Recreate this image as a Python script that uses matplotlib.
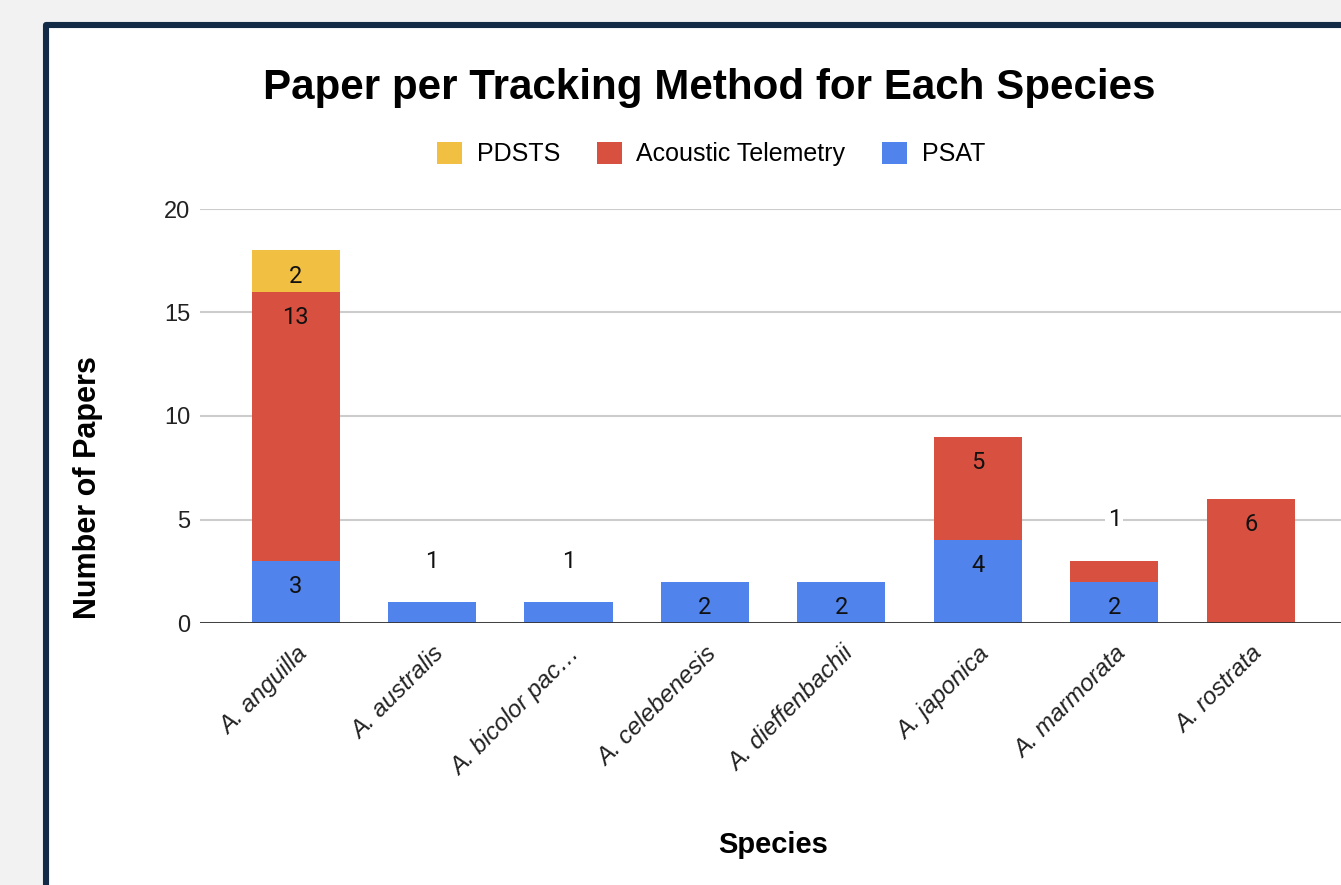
import numpy as np
import matplotlib.pyplot as plt
from matplotlib.patches import Rectangle

species = ["A. anguilla", "A. australis", "A. bicolor pac…", "A. celebenesis",
           "A. dieffenbachii", "A. japonica", "A. marmorata", "A. rostrata"]
psat = [3, 1, 1, 2, 2, 4, 2, 0]
acoustic = [13, 0, 0, 0, 0, 5, 1, 6]
pdsts = [2, 0, 0, 0, 0, 0, 0, 0]

series = [("PSAT", psat, "#5083ec"),
          ("Acoustic Telemetry", acoustic, "#d85140"),
          ("PDSTS", pdsts, "#f1bf42")]

W, H = 1341, 885
fig = plt.figure(figsize=(W / 100, H / 100), dpi=100, facecolor="#f2f2f2")

# white card with navy frame
card_top = 1 - 25 / H
card = Rectangle((46 / W, -0.2), 1.2, card_top + 0.2, transform=fig.transFigure,
                 facecolor="white", edgecolor="#142b47", linewidth=4.4,
                 joinstyle="round", zorder=-5)
fig.patches.append(card)

ax = fig.add_axes([200 / W, 1 - 623 / H, 1 - 200 / W, (623 - 209) / H])
ax.set_facecolor("none")

x = np.arange(len(species))
width = 0.645
bottom = np.zeros(len(species))
handles = {}
for name, vals, color in series:
    vals = np.array(vals, dtype=float)
    bars = ax.bar(x, vals, width, bottom=bottom, color=color, zorder=2, label=name)
    handles[name] = bars
    for xi, v, b in zip(x, vals, bottom):
        if v == 0:
            continue
        top = b + v
        if v >= 2:
            # label sits inside the segment, just under its top edge
            ax.annotate(f"{int(v)}", (xi, top), xytext=(0, -18.5), textcoords="offset points",
                        ha="center", va="center", fontsize=17, family="Roboto",
                        color="#111111", zorder=4)
        else:
            # too thin for an inside label, so put it above the stack
            stack_top = psat[xi] + acoustic[xi] + pdsts[xi]
            ax.annotate(f"{int(v)}", (xi, stack_top), xytext=(0, 29.5), textcoords="offset points",
                        ha="center", va="center", fontsize=17, family="Roboto",
                        color="#111111", zorder=4,
                        bbox=dict(boxstyle="square,pad=0.1", fc="white", ec="none"))
    bottom += vals

ax.set_xlim(-0.70, 7.66)
ax.set_ylim(0, 20)
ax.set_yticks([0, 5, 10, 15, 20])
ax.yaxis.grid(True, color="#cccccc", linewidth=1.5, zorder=1)
ax.set_axisbelow(True)
ax.axhline(0, color="#333333", linewidth=2, zorder=3)
for s in ax.spines.values():
    s.set_visible(False)
ax.tick_params(axis="both", length=0)
ax.tick_params(axis="y", pad=7, labelsize=17, labelcolor="#222222")
ax.set_xticks(x)
ax.set_xticklabels(species, rotation=45, ha="right", va="top", rotation_mode="anchor",
                   fontsize=17.5, style="italic", family="Liberation Sans", color="#222222")
ax.tick_params(axis="x", pad=14)
for lab in ax.get_yticklabels():
    lab.set_family("Liberation Sans")

fig.text(709 / W, 1 - 88 / H, "Paper per Tracking Method for Each Species",
         ha="center", va="center", fontsize=30.3, fontweight="bold", family="Liberation Sans")
fig.text(88 / W, 1 - 488 / H, "Number of Papers", rotation=90, ha="center", va="center",
         fontsize=22, fontweight="bold", family="Liberation Sans")
fig.text(773 / W, 1 - 845 / H, "Species", ha="center", va="center",
         fontsize=21, fontweight="bold", family="Liberation Sans")

order = ["PDSTS", "Acoustic Telemetry", "PSAT"]
fig.legend([handles[n] for n in order], order, loc="center", ncol=3,
           bbox_to_anchor=(711 / W, 1 - 154 / H), frameon=False,
           prop={"family": "Liberation Sans", "size": 18},
           handlelength=1.0, handleheight=1.0, handletextpad=0.6, columnspacing=1.45)

fig.savefig("out.png", dpi=100, facecolor=fig.get_facecolor())
